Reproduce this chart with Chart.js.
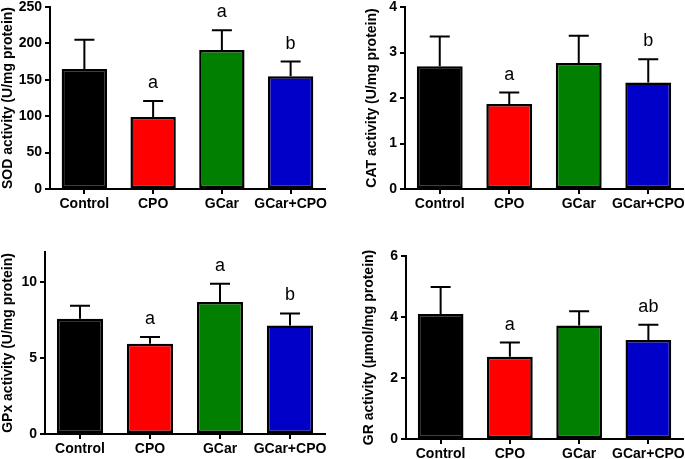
<!DOCTYPE html>
<html>
<head>
<meta charset="utf-8">
<script src="https://cdn.jsdelivr.net/npm/chart.js@4"></script>
<style>
  body { margin: 0; background: #fff; }
  #wrap { position: relative; width: 685px; height: 459px; }
  canvas { position: absolute; }
</style>
</head>
<body>
<div id="wrap">
  <canvas id="sod" width="340" height="225" style="left:0;top:0"></canvas>
  <canvas id="cat" width="345" height="225" style="left:340px;top:0"></canvas>
  <canvas id="gpx" width="340" height="229" style="left:0;top:230px"></canvas>
  <canvas id="gr" width="345" height="229" style="left:340px;top:230px"></canvas>
</div>
<script>
// groups and colours
const groups = ['Control', 'CPO', 'GCar', 'GCar+CPO'];
const barColors = ['#000000', '#ff0000', '#007f00', '#0000c8'];

// means and SEM
const sodMean = [165, 99, 191, 155];
const sodSem = [40, 22, 27, 20];
const sodLetters = ['', 'a', 'a', 'b'];

const catMean = [2.70, 1.87, 2.77, 2.34];
const catSem = [0.65, 0.25, 0.60, 0.51];
const catLetters = ['', 'a', '', 'b'];

const gpxMean = [7.6, 5.95, 8.7, 7.15];
const gpxSem = [0.85, 0.45, 1.2, 0.8];
const gpxLetters = ['', 'a', 'a', 'b'];

const grMean = [4.1, 2.7, 3.72, 3.25];
const grSem = [0.88, 0.46, 0.47, 0.5];
const grLetters = ['', 'a', '', 'ab'];

const FONT = "'Liberation Sans', Arial, sans-serif";

// error bars (upper only) + significance letters
const errorPlugin = {
    id: 'errs',
    afterDatasetsDraw(chart, args, opts) {
        const ctx = chart.ctx;
        const y = chart.scales.y;
        const meta = chart.getDatasetMeta(0);
        ctx.save();
        ctx.strokeStyle = '#000';
        ctx.lineWidth = 2;
        meta.data.forEach((bar, i) => {
            const top = y.getPixelForValue(opts.mean[i]);
            const hi = y.getPixelForValue(opts.mean[i] + opts.sem[i]);
            ctx.beginPath();
            ctx.moveTo(bar.x, top);
            ctx.lineTo(bar.x, hi);
            ctx.moveTo(bar.x - 10, hi);
            ctx.lineTo(bar.x + 10, hi);
            ctx.stroke();
            if (opts.letters[i]) {
                ctx.fillStyle = '#000';
                ctx.font = '18px ' + FONT;
                ctx.textAlign = 'center';
                ctx.textBaseline = 'middle';
                ctx.fillText(opts.letters[i], bar.x, hi - 18);
            }
        });
        ctx.restore();
    }
};

function makeChart(id, p) {
    const ctx = document.getElementById(id).getContext('2d');
    return new Chart(ctx, {
        type: 'bar',
        data: {
            labels: groups,
            datasets: [{
                data: p.mean,
                backgroundColor: barColors,
                borderColor: '#000',
                borderWidth: 2.5,
                borderSkipped: false,
                categoryPercentage: 1,
                barPercentage: 0.66
            }]
        },
        options: {
            responsive: false,
            animation: false,
            devicePixelRatio: 1,
            layout: { padding: { left: p.titleLeft, top: p.area.t, right: p.w - p.area.r, bottom: 0 } },
            plugins: {
                legend: { display: false },
                tooltip: { enabled: false },
                errs: { mean: p.mean, sem: p.sem, letters: p.letters }
            },
            scales: {
                x: {
                    grid: { drawOnChartArea: false, offset: false, tickLength: 5, color: '#000', lineWidth: 2 },
                    border: { color: '#000', width: 2 },
                    ticks: { color: '#000', font: { family: FONT, size: 14, weight: 'bold' }, padding: 2, maxRotation: 0, autoSkip: false },
                    afterFit: s => { s.height = p.h - p.area.b; s.paddingLeft = 0; s.paddingRight = 0; }
                },
                y: {
                    min: 0,
                    max: p.max,
                    ticks: { stepSize: p.step, includeBounds: false, color: '#000', font: { family: FONT, size: 14, weight: 'bold' }, padding: 3 },
                    grid: { drawOnChartArea: false, tickLength: 5, color: '#000', lineWidth: 2 },
                    border: { color: '#000', width: 2 },
                    title: { display: true, text: p.title, color: '#000', font: { family: FONT, size: 14, weight: 'bold' }, padding: 0 },
                    afterFit: s => { s.width = p.area.l - p.titleLeft; s.paddingTop = 0; s.paddingBottom = 0; }
                }
            }
        },
        plugins: [errorPlugin]
    });
}

makeChart('sod', { w: 340, h: 225, area: { l: 50, t: 7, r: 325, b: 189 }, titleLeft: 0, max: 250, step: 50,
    title: 'SOD activity (U/mg protein)', mean: sodMean, sem: sodSem, letters: sodLetters });
makeChart('cat', { w: 345, h: 225, area: { l: 65, t: 7, r: 343, b: 189 }, titleLeft: 24, max: 4, step: 1,
    title: 'CAT activity (U/mg protein)', mean: catMean, sem: catSem, letters: catLetters });
makeChart('gpx', { w: 340, h: 229, area: { l: 45, t: 22, r: 325, b: 204 }, titleLeft: 0, max: 12, step: 5,
    title: 'GPx activity (U/mg protein)', mean: gpxMean, sem: gpxSem, letters: gpxLetters });
makeChart('gr', { w: 345, h: 229, area: { l: 66, t: 26, r: 343, b: 209 }, titleLeft: 21, max: 6, step: 2,
    title: 'GR activity (µmol/mg protein)', mean: grMean, sem: grSem, letters: grLetters });
</script>
</body>
</html>
